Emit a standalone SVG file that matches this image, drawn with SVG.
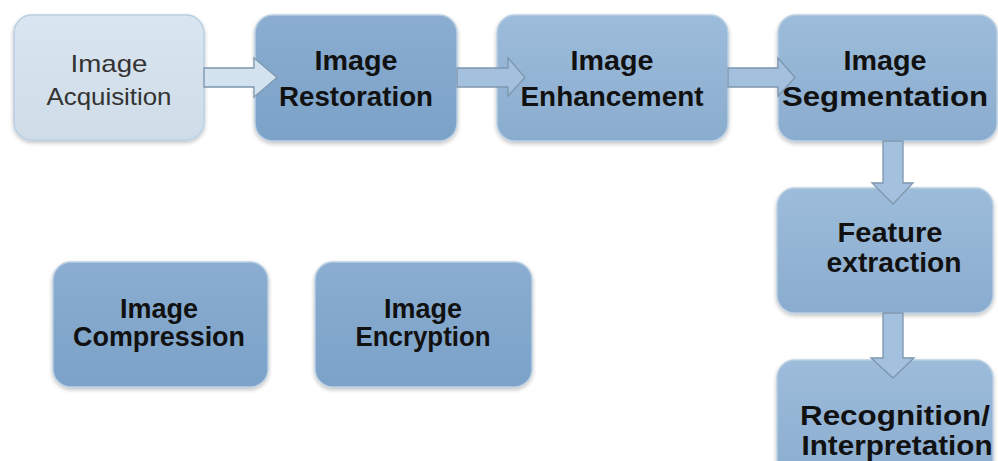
<svg xmlns="http://www.w3.org/2000/svg" width="998" height="461" viewBox="0 0 998 461">
<defs>
<linearGradient id="gb" x1="0" y1="0" x2="0" y2="1">
<stop offset="0" stop-color="#9dbcdb"/>
<stop offset="1" stop-color="#8aacce"/>
</linearGradient>
<linearGradient id="gd" x1="0" y1="0" x2="0" y2="1">
<stop offset="0" stop-color="#8aadd0"/>
<stop offset="1" stop-color="#7ca2c8"/>
</linearGradient>
<linearGradient id="gl" x1="0" y1="0" x2="0" y2="1">
<stop offset="0" stop-color="#d9e5f0"/>
<stop offset="1" stop-color="#cfdde9"/>
</linearGradient>
<filter id="sh" x="-10%" y="-10%" width="120%" height="130%">
<feGaussianBlur in="SourceAlpha" stdDeviation="2"/>
<feOffset dx="0" dy="2"/>
<feComponentTransfer><feFuncA type="linear" slope="0.25"/></feComponentTransfer>
<feMerge><feMergeNode/><feMergeNode in="SourceGraphic"/></feMerge>
</filter>
</defs>
<style>
.box{stroke:#b9cfe3;stroke-width:1.5;filter:url(#sh)}
.b{font-family:"Liberation Sans",Arial,sans-serif;font-weight:bold;font-size:27px;fill:#111;text-anchor:middle}
.r{font-family:"Liberation Sans",Arial,sans-serif;font-size:24px;fill:#333;text-anchor:middle}
.arr{fill:#a3c1df;stroke:#7d96ad;stroke-width:1.3;stroke-linejoin:miter}
.arrl{fill:#d3e2ef;stroke:#7d96ad;stroke-width:1.3}
</style>
<rect width="998" height="461" fill="#ffffff"/>

<g id="acquisition">
<rect class="box" x="14" y="15" width="190" height="125" rx="18" fill="url(#gl)"/>
<text class="r" x="109" y="72" textLength="77" lengthAdjust="spacingAndGlyphs">Image</text>
<text class="r" x="109" y="105" textLength="125" lengthAdjust="spacingAndGlyphs">Acquisition</text>
</g>
<g id="restoration">
<rect class="box" x="255" y="15" width="202" height="126" rx="18" fill="url(#gd)"/>
<text class="b" x="356" y="70" textLength="83" lengthAdjust="spacingAndGlyphs">Image</text>
<text class="b" x="356" y="106" textLength="154" lengthAdjust="spacingAndGlyphs">Restoration</text>
</g>
<g id="enhancement">
<rect class="box" x="497" y="15" width="231" height="126" rx="18" fill="url(#gb)"/>
<text class="b" x="612" y="70" textLength="83" lengthAdjust="spacingAndGlyphs">Image</text>
<text class="b" x="612" y="106" textLength="183" lengthAdjust="spacingAndGlyphs">Enhancement</text>
</g>
<g id="segmentation">
<rect class="box" x="778" y="15" width="219" height="126" rx="18" fill="url(#gb)"/>
<text class="b" x="885" y="70" textLength="83" lengthAdjust="spacingAndGlyphs">Image</text>
<text class="b" x="885" y="106" textLength="206" lengthAdjust="spacingAndGlyphs">Segmentation</text>
</g>
<g id="feature">
<rect class="box" x="777" y="188" width="216" height="125" rx="18" fill="url(#gb)"/>
<text class="b" x="890" y="242" textLength="105" lengthAdjust="spacingAndGlyphs">Feature</text>
<text class="b" x="894" y="272" textLength="135" lengthAdjust="spacingAndGlyphs">extraction</text>
</g>
<g id="recognition">
<rect class="box" x="777" y="360" width="216" height="125" rx="18" fill="url(#gb)"/>
<text class="b" x="895" y="425" textLength="190" lengthAdjust="spacingAndGlyphs">Recognition/</text>
<text class="b" x="897" y="455" textLength="191" lengthAdjust="spacingAndGlyphs">Interpretation</text>
</g>
<g id="compression">
<rect class="box" x="53" y="262" width="215" height="125" rx="18" fill="url(#gd)"/>
<text class="b" x="159" y="318" textLength="78" lengthAdjust="spacingAndGlyphs">Image</text>
<text class="b" x="159" y="346" textLength="172" lengthAdjust="spacingAndGlyphs">Compression</text>
</g>
<g id="encryption">
<rect class="box" x="315" y="262" width="217" height="125" rx="18" fill="url(#gd)"/>
<text class="b" x="423" y="318" textLength="78" lengthAdjust="spacingAndGlyphs">Image</text>
<text class="b" x="423" y="346" textLength="135" lengthAdjust="spacingAndGlyphs">Encryption</text>
</g>

<g id="connectors">
<path class="arrl" d="M204,68 H254 V58 L277,77.5 L254,97 V87 H204 Z"/>
<path class="arr" d="M457,68 H508 V58 L525,77.5 L508,96 V87 H457 Z"/>
<path class="arr" d="M728,68 H778 V58 L795,77.5 L778,96 V87 H728 Z"/>
<path class="arr" d="M883,141 H903 V183 H913 L893,204 L872,183 H883 Z"/>
<path class="arr" d="M883,313 H903 V358 H914 L893,378 L871,358 H883 Z"/>
</g>
</svg>
